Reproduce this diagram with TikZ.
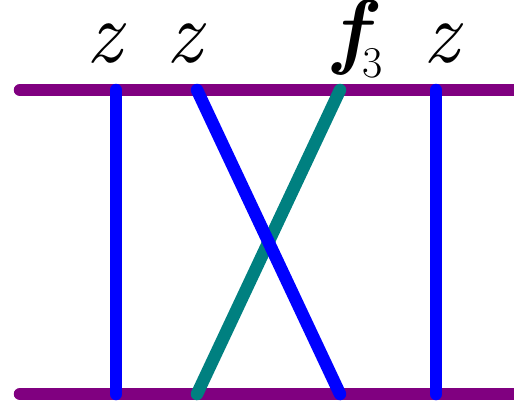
\documentclass[tikz,border=0pt]{standalone}
\usepackage{fontspec}
\definecolor{lpurple}{HTML}{800080}
\definecolor{lblue}{HTML}{0000FF}
\definecolor{lteal}{HTML}{008080}
\begin{document}
\begin{tikzpicture}[x=1pt,y=-1pt,
  wire/.style={line width=12.5pt,line cap=round},
  zlab/.style={inner sep=0pt,font=\fontsize{88}{88}\selectfont\itshape},
  flab/.style={inner sep=0pt,font=\fontsize{84}{84}\selectfont\bfseries\itshape},
  slab/.style={inner sep=0pt,font=\fontsize{44}{44}\selectfont}]
\useasboundingbox (0,0) rectangle (514,400);
\coordinate (tl) at (20,90);
\coordinate (tr) at (530,90);
\coordinate (bl) at (20,394);
\coordinate (br) at (530,394);
\coordinate (a1) at (116,90);
\coordinate (a2) at (116,394);
\coordinate (b1) at (197,90);
\coordinate (b2) at (340,394);
\coordinate (c1) at (340,90);
\coordinate (c2) at (197,394);
\coordinate (d1) at (436,90);
\coordinate (d2) at (436,394);
\draw[wire,lpurple] (tl) -- (tr);
\draw[wire,lpurple] (bl) -- (br);
\draw[wire,lteal] (c1) -- (c2);
\draw[wire,lblue] (a1) -- (a2);
\draw[wire,lblue] (b1) -- (b2);
\draw[wire,lblue] (d1) -- (d2);
\node[zlab,anchor=base] (z1) at (104,62) {z};
\node[zlab,anchor=base] (z2) at (184,62) {z};
\node[flab,anchor=base] (f) at (350,58) {f};
\node[slab,anchor=base west] (s3) at (362,77) {3};
\node[zlab,anchor=base] (z3) at (441,62) {z};
\end{tikzpicture}
\end{document}
